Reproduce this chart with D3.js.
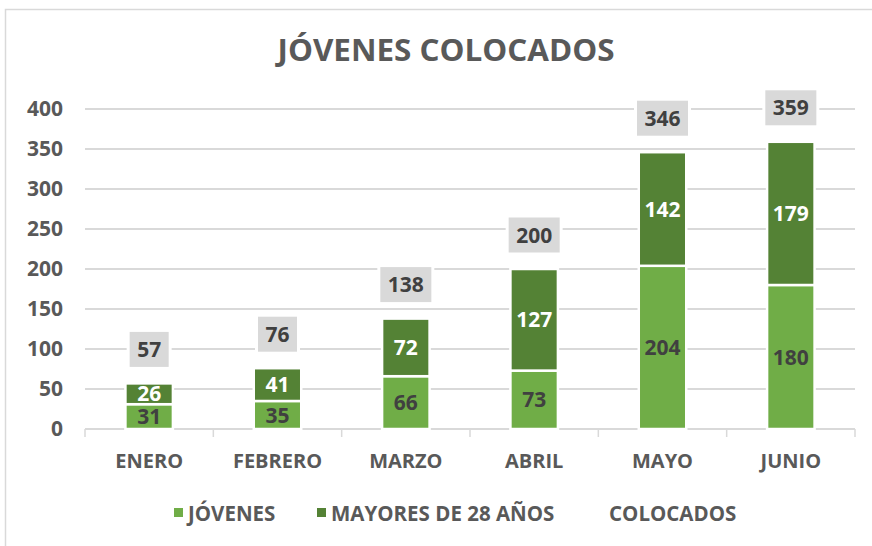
<!DOCTYPE html>
<html>
<head>
<meta charset="utf-8">
<script src="https://cdn.jsdelivr.net/npm/d3@7"></script>
<style>
  body { margin: 0; background: #fff; }
  svg text { font-family: "Open Sans", "Noto Sans", sans-serif; font-weight: bold; }
</style>
</head>
<body>
<div id="chart"></div>
<script>
const meses = ['ENERO', 'FEBRERO', 'MARZO', 'ABRIL', 'MAYO', 'JUNIO'];
const jovenes = [31, 35, 66, 73, 204, 180];
const mayores = [26, 41, 72, 127, 142, 179];
const colocados = [57, 76, 138, 200, 346, 359];
const yTicks = [0, 50, 100, 150, 200, 250, 300, 350, 400];

const W = 872, H = 546;
const plotL = 85, plotR = 855, plotT = 109, plotB = 429;
const cJov = '#70ad47', cMay = '#548235';

const svg = d3.select('#chart').append('svg')
    .attr('width', W).attr('height', H);

// marco del grafico
svg.append('rect')
   .attr('x', 5.5).attr('y', 9.5).attr('width', 900).attr('height', 600)
   .attr('fill', 'none').attr('stroke', '#d9d9d9').attr('stroke-width', 1.5);

svg.append('text')
   .attr('x', 446).attr('y', 61)
   .attr('text-anchor', 'middle')
   .attr('font-size', 31).attr('fill', '#595959')
   .attr('textLength', 337).attr('lengthAdjust', 'spacingAndGlyphs')
   .text('JÓVENES COLOCADOS');

const x = d3.scaleBand().domain(meses).range([plotL, plotR]).paddingInner(0.63).paddingOuter(0.315);
const xSep = d3.scaleLinear().domain([0, meses.length]).range([plotL, plotR]);
const y = d3.scaleLinear().domain([0, 400]).range([plotB, plotT]);

// rejilla
svg.append('g')
   .selectAll('line').data(yTicks.slice(1)).enter()
   .append('line')
   .attr('x1', plotL).attr('x2', plotR)
   .attr('y1', d => y(d)).attr('y2', d => y(d))
   .attr('stroke', '#d9d9d9').attr('stroke-width', 2);

// eje y
const yAxis = d3.axisLeft(y).tickValues(yTicks).tickSize(0).tickPadding(0);
svg.append('g')
   .attr('transform', `translate(${plotL - 22},0)`)
   .call(yAxis)
   .call(g => g.select('.domain').remove())
   .selectAll('text')
   .attr('font-size', 21).attr('fill', '#595959');

// eje x
svg.append('line')
   .attr('x1', plotL).attr('x2', plotR)
   .attr('y1', plotB).attr('y2', plotB)
   .attr('stroke', '#d9d9d9').attr('stroke-width', 2);
svg.append('g')
   .selectAll('line').data(d3.range(meses.length + 1)).enter()
   .append('line')
   .attr('x1', d => xSep(d)).attr('x2', d => xSep(d))
   .attr('y1', plotB).attr('y2', plotB + 8)
   .attr('stroke', '#d9d9d9').attr('stroke-width', 1.5);

const xAxis = d3.axisBottom(x).tickSize(0).tickPadding(0);
svg.append('g')
   .attr('transform', `translate(0,${plotB + 39})`)
   .call(xAxis)
   .call(g => g.select('.domain').remove())
   .selectAll('text')
   .attr('dy', 0)
   .attr('font-size', 20).attr('fill', '#595959');

// barras apiladas
const rows = meses.map((m, i) => ({ mes: m, jov: jovenes[i], may: mayores[i], tot: colocados[i] }));
const stack = d3.stack().keys(['jov', 'may'])(rows);
const colors = { jov: cJov, may: cMay };
const labelColors = { jov: '#404040', may: '#ffffff' };

stack.forEach(serie => {
    const g = svg.append('g');
    g.selectAll('rect').data(serie).enter()
     .append('rect')
     .attr('x', d => x(d.data.mes))
     .attr('y', d => y(d[1]))
     .attr('width', x.bandwidth())
     .attr('height', d => y(d[0]) - y(d[1]))
     .attr('fill', colors[serie.key])
     .attr('stroke', '#fff').attr('stroke-width', 2.5);
    g.selectAll('text').data(serie).enter()
     .append('text')
     .attr('x', d => x(d.data.mes) + x.bandwidth() / 2)
     .attr('y', d => (y(d[0]) + y(d[1])) / 2 + 7.5)
     .attr('text-anchor', 'middle')
     .attr('font-size', 21)
     .attr('fill', labelColors[serie.key])
     .text(d => d.data[serie.key]);
});

// etiquetas COLOCADOS
const tot = svg.append('g').selectAll('g').data(rows).enter().append('g')
    .attr('transform', d => `translate(${x(d.mes) + x.bandwidth() / 2},${y(d.tot) - 34})`);
tot.append('rect')
   .attr('x', d => d.tot >= 100 ? -27 : -21)
   .attr('width', d => d.tot >= 100 ? 54 : 42)
   .attr('y', -19).attr('height', 38)
   .attr('fill', '#d9d9d9').attr('stroke', '#fff').attr('stroke-width', 3);
tot.append('text')
   .attr('y', 7.5).attr('text-anchor', 'middle')
   .attr('font-size', 21).attr('fill', '#404040')
   .text(d => d.tot);

// leyenda
const legend = [
    { name: 'JÓVENES', color: cJov, x: 174 },
    { name: 'MAYORES DE 28 AÑOS', color: cMay, x: 317 },
    { name: 'COLOCADOS', color: null, x: 595 }
];
const lg = svg.append('g').selectAll('g').data(legend).enter().append('g')
    .attr('transform', d => `translate(${d.x},513)`);
lg.filter(d => d.color).append('rect')
   .attr('x', 0).attr('y', -5).attr('width', 9).attr('height', 9)
   .attr('fill', d => d.color);
lg.append('text')
   .attr('x', 14).attr('y', 7.5)
   .attr('font-size', 20.5).attr('fill', '#595959')
   .text(d => d.name);
</script>
</body>
</html>
